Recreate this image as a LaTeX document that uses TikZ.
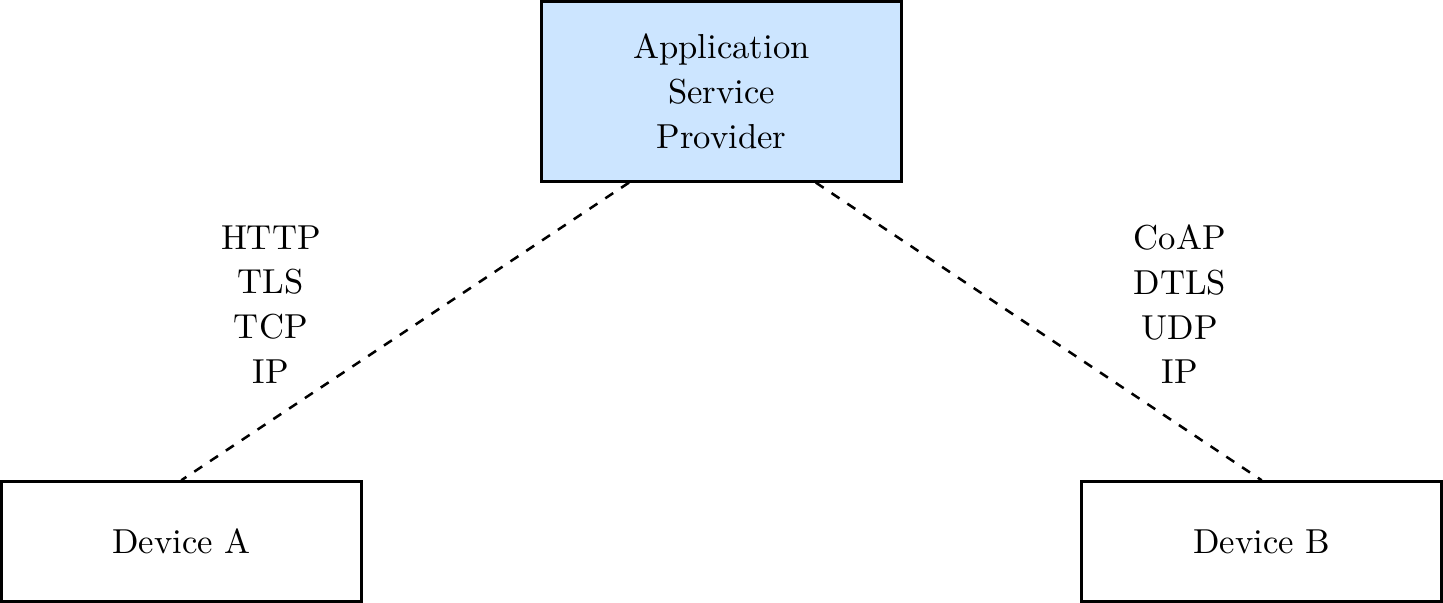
\documentclass[tikz,border=0pt,11pt]{standalone}
\usetikzlibrary{calc}
\definecolor{aspblue}{RGB}{204,229,255}

\begin{document}
\begin{tikzpicture}[
  font={\fontsize{10.95pt}{14.1pt}\selectfont},
  box/.style={draw, thick, minimum width=4cm, align=center},
  link/.style={thick, dashed}]
\useasboundingbox (-2.014,-0.679) rectangle (14.014,6.014);
% Application Service Provider
\node[box, fill=aspblue, minimum height=2cm] (asp) at (6,5) {Application\\Service\\Provider};
% Devices
\node[box, minimum height=1.33cm] (devA) at (0,0) {Device A};
\node[box, minimum height=1.33cm] (devB) at (12,0) {Device B};
% Device A -- ASP
\draw[link] ($(asp.south west)!0.245!(asp.south east)$) -- (devA.north);
\node[align=center] (stackA) at (0.994,2.632) {HTTP\\TLS\\TCP\\IP};
% Device B -- ASP
\draw[link] ($(asp.south west)!0.76!(asp.south east)$) -- (devB.north);
\node[align=center] (stackB) at (11.09,2.632) {CoAP\\DTLS\\UDP\\IP};
\end{tikzpicture}
\end{document}
